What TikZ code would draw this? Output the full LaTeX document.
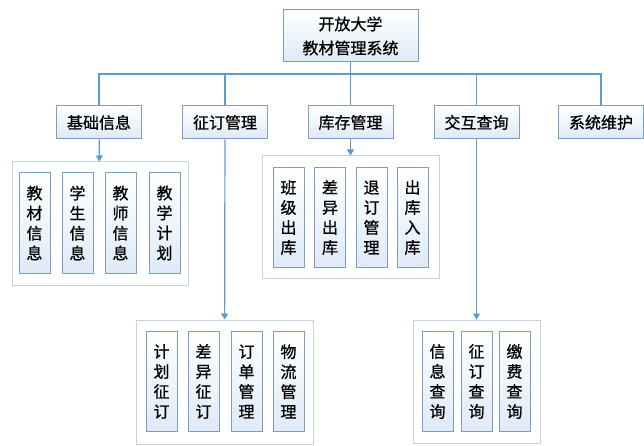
\documentclass[tikz,border=0pt]{standalone}
\usepackage{fontspec}
\setmainfont{Noto Sans CJK SC}[FakeBold=0.8]
\usetikzlibrary{arrows.meta}
\definecolor{LineBlue}{RGB}{91, 155, 213}
\definecolor{BoxEdge}{RGB}{125, 158, 196}
\definecolor{GroupEdge}{RGB}{200, 210, 222}
\definecolor{LightFill}{RGB}{222, 234, 246}

\begin{document}
\begin{tikzpicture}[
        x=1pt, y=-1pt,
        box/.style={draw=BoxEdge, line width=1pt, top color=white, bottom color=LightFill,
                    minimum height=33pt, minimum width=85pt, inner sep=0pt,
                    font=\fontsize{16}{20}\selectfont, align=center},
        topbox/.style={box, minimum height=52pt, minimum width=135pt,
                       font=\fontsize{16}{24}\selectfont},
        group/.style={draw=GroupEdge, line width=1pt, fill=white, inner sep=0pt},
        item/.style={box, minimum width=31pt, minimum height=100pt},
        link/.style={LineBlue, line width=1.2pt},
        arrow/.style={link, -{Triangle[length=6pt, width=7pt]}}
    ]
        \useasboundingbox (0,0) rectangle (644,446);

        \node[topbox] (root) at (350.5,36) {开放大学\\教材管理系统};

        \node[box] (basic) at (99,122.5) {基础信息};
        \node[box] (order) at (225,122.5) {征订管理};
        \node[box] (stock) at (350.5,122.5) {库存管理};
        \node[box] (query) at (476.5,122.5) {交互查询};
        \node[box] (maint) at (601,122.5) {系统维护};

        \coordinate (bus) at (350.5,74);
        \draw[link] (root.south) -- (bus);
        \foreach \n in {basic, order, stock, query, maint}
            \draw[link] (bus) -| (\n.north);

        % groups
        \node[group, minimum width=176pt, minimum height=123pt] (gbasic) at (100,223.5) {};
        \node[group, minimum width=177pt, minimum height=122pt] (gstock) at (350.5,217) {};
        \node[group, minimum width=177pt, minimum height=124pt] (gorder) at (224.5,382) {};
        \node[group, minimum width=127pt, minimum height=123pt] (gquery) at (476.5,381.5) {};

        \foreach \x/\t [count=\i] in {34.5/教\\材\\信\\息, 77.5/学\\生\\信\\息,
                120.5/教\\师\\信\\息, 164.5/教\\学\\计\\划}
            \node[item] (b\i) at (\x,223) {\t};
        \foreach \x/\t [count=\i] in {288.5/班\\级\\出\\库, 330/差\\异\\出\\库,
                371.5/退\\订\\管\\理, 412.5/出\\库\\入\\库}
            \node[item] (s\i) at (\x,217.5) {\t};
        \foreach \x/\t [count=\i] in {161.5/计\\划\\征\\订, 203.5/差\\异\\征\\订,
                246.5/订\\单\\管\\理, 288.5/物\\流\\管\\理}
            \node[item] (o\i) at (\x,381.5) {\t};
        \foreach \x/\t [count=\i] in {437.5/信\\息\\查\\询, 476.5/征\\订\\查\\询,
                514.5/缴\\费\\查\\询}
            \node[item] (q\i) at (\x,381.5) {\t};

        \draw[arrow] (basic) -- (gbasic);
        \draw[arrow] (stock) -- (gstock);
        \draw[arrow] (order) -- (gorder);
        \draw[arrow] (query) -- (gquery);
    \end{tikzpicture}
\end{document}
